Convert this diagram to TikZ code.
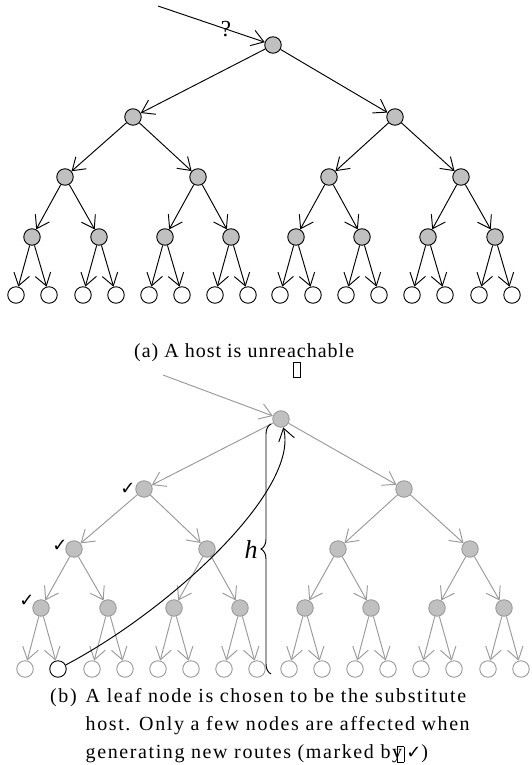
\documentclass[tikz,border=0pt]{standalone}
\usepackage{fontspec}
\setmainfont{Liberation Serif}
\newfontfamily\symfont{DejaVu Sans}
\usetikzlibrary{arrows.meta,decorations.pathreplacing}
\definecolor{nodefill}{HTML}{C0C0C0}
\definecolor{fadegray}{HTML}{9A9A9A}
% empty glyph box as printed in the captions
\newcommand\tofubox{\raisebox{-4pt}{\fboxsep=0pt\fboxrule=0.6pt\fbox{\rule{0pt}{15pt}\hspace{6pt}}}}
\newcommand\tickmark{{\symfont\fontsize{18}{18}\selectfont ✓}}
\newcommand\capfontA{\fontsize{20}{28}\selectfont\addfontfeatures{LetterSpace=5}}
\newcommand\capfontB{\fontsize{20}{28}\selectfont\addfontfeatures{LetterSpace=8}}
\tikzset{
  treenode/.style={circle, inner sep=0pt, minimum size=16.5pt, line width=0.9pt},
  innerA/.style={treenode, fill=nodefill, draw=black},
  leafA/.style={treenode, fill=white, draw=black},
  innerB/.style={treenode, fill=nodefill, draw=fadegray},
  leafB/.style={treenode, fill=white, draw=fadegray},
  barb/.style={-{Straight Barb[length=12pt,width=16pt]}},
  edgeA/.style={barb, draw=black, line width=0.95pt},
  edgeB/.style={barb, draw=fadegray, line width=0.95pt},
  tick/.style={inner sep=0pt},
}
\begin{document}
\begin{tikzpicture}[x=1pt,y=-1pt]
\useasboundingbox (0,0) rectangle (531,765);

% ---------------- tree (a): unreachable host
\node[innerA] (aR) at (273,45) {};
\foreach \i/\x in {1/133,2/395} \node[innerA] (aA\i) at (\x,117) {};
\foreach \i/\x in {1/65,2/198,3/329,4/461} \node[innerA] (aB\i) at (\x,177) {};
\foreach \i/\x in {1/32,2/99,3/165,4/231,5/296,6/362,7/428,8/495}
  \node[innerA] (aC\i) at (\x,237) {};
\foreach \i/\x in {1/16,2/49,3/83,4/116,5/149,6/182,7/215,8/248,
                   9/280,10/313,11/346,12/379,13/412,14/445,15/479,16/512}
  \node[leafA] (aD\i) at (\x,295) {};
\foreach \i in {1,2} \draw[edgeA] (aR) -- (aA\i);
\foreach \i [evaluate=\i as \p using {int((\i+1)/2)}] in {1,...,4} \draw[edgeA] (aA\p) -- (aB\i);
\foreach \i [evaluate=\i as \p using {int((\i+1)/2)}] in {1,...,8} \draw[edgeA] (aB\p) -- (aC\i);
\foreach \i [evaluate=\i as \p using {int((\i+1)/2)}] in {1,...,16} \draw[edgeA] (aC\p) -- (aD\i);
\coordinate (aIn) at (158,6);
\draw[edgeA] (aIn) -- (aR);
\node[inner sep=0pt, font=\fontsize{23}{23}\selectfont] (qmark) at (226,29) {?};

\node[anchor=base west, inner sep=0pt, font=\capfontA] (capA) at (134,357) {(a) A host is unreachable};
\node[draw, line width=0.6pt, minimum width=7pt, minimum height=15pt, inner sep=0pt] (tofuA) at (297,370) {};

% ---------------- tree (b): substitute host
\node[innerB] (bR) at (281,419) {};
\foreach \i/\x in {1/144,2/404} \node[innerB] (bA\i) at (\x,489) {};
\foreach \i/\x in {1/74,2/207,3/338,4/470} \node[innerB] (bB\i) at (\x,549) {};
\foreach \i/\x in {1/41,2/108,3/174,4/240,5/305,6/371,7/437,8/504}
  \node[innerB] (bC\i) at (\x,608) {};
\foreach \i/\x in {1/25,3/92,4/125,5/158,6/191,7/224,8/257,
                   9/289,10/322,11/355,12/388,13/421,14/454,15/488,16/521}
  \node[leafB] (bD\i) at (\x,669) {};
\node[leafB, draw=black] (bD2) at (58,669) {};
\foreach \i in {1,2} \draw[edgeB] (bR) -- (bA\i);
\foreach \i [evaluate=\i as \p using {int((\i+1)/2)}] in {1,...,4} \draw[edgeB] (bA\p) -- (bB\i);
\foreach \i [evaluate=\i as \p using {int((\i+1)/2)}] in {1,...,8} \draw[edgeB] (bB\p) -- (bC\i);
\foreach \i [evaluate=\i as \p using {int((\i+1)/2)}] in {1,...,16} \draw[edgeB] (bC\p) -- (bD\i);
\coordinate (bIn) at (163,375);
\draw[edgeB] (bIn) -- (bR);

% new route from the chosen leaf up to the root
\draw[edgeA] (bD2) .. controls (170,610) and (300,490) .. (bR);

% height of the tree
\coordinate (hBot) at (271,674);
\coordinate (hTop) at (271,424);
\draw[decorate, decoration={brace, amplitude=10pt}, line width=0.95pt] (hBot) -- (hTop);
\node[inner sep=0pt, font=\fontsize{26}{26}\selectfont\itshape] (hlab) at (251,549) {h};

% affected nodes
\node[tick] (tk1) at (128,489) {\tickmark};
\node[tick] (tk2) at (60,546) {\tickmark};
\node[tick] (tk3) at (27,601) {\tickmark};

\node[anchor=base west, inner sep=0pt, font=\capfontB] (capB) at (50,702)
  {\begin{tabular}[t]{@{}l@{\hspace{9pt}}l@{}}
   (b) & A leaf node is chosen to be the substitute\\
       & host. Only a few nodes are affected when\\
       & generating new routes (marked by\kern-5pt\tofubox\kern2pt\tickmark)
   \end{tabular}};
\end{tikzpicture}
\end{document}
